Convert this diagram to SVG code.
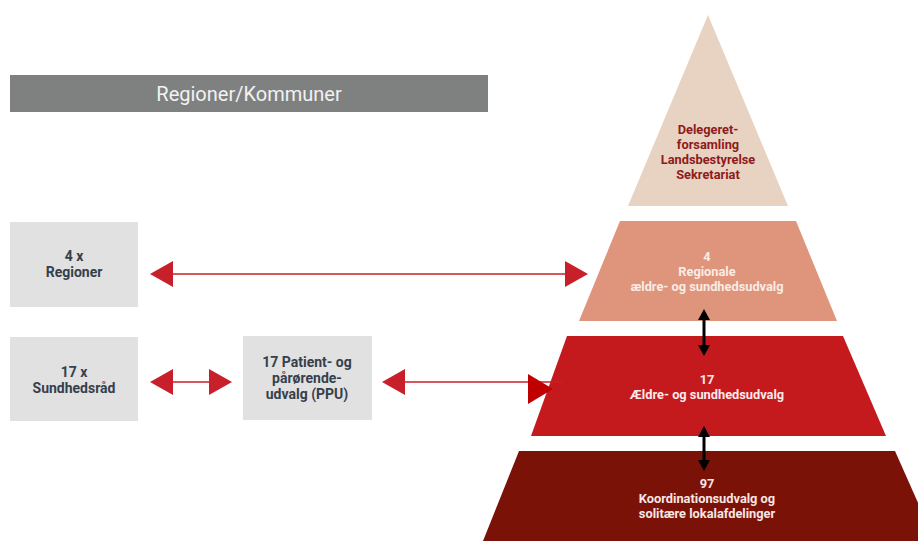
<svg xmlns="http://www.w3.org/2000/svg" width="918" height="541" viewBox="0 0 918 541">
<defs>
<style>
.t{font-family:Roboto,"Liberation Sans",sans-serif;font-weight:bold;text-anchor:middle}
.box{fill:#e1e1e1}
.bt{font-size:14px;fill:#36404c}
.pt{font-size:12.8px}
.rl{stroke:#c8202a;stroke-width:1.6;fill:none}
.rh{fill:#c8202a}
.bl{stroke:#000;stroke-width:3}
</style>
</defs>
<rect width="918" height="541" fill="#fff"/>
<g id="header">
<rect x="10" y="75" width="478" height="37" fill="#7f8181"/>
<text x="249" y="101" style="font-family:Roboto,'Liberation Sans',sans-serif;font-size:20px;fill:#f2f2f2;text-anchor:middle">Regioner/Kommuner</text>
</g>
<g id="pyr-top">
<polygon points="708,15 788,206 628,206" fill="#e8d2c1"/>
<text class="t pt" fill="#8e1b1b"><tspan x="708" y="134">Delegeret-</tspan><tspan x="708" y="149">forsamling</tspan><tspan x="708" y="164">Landsbestyrelse</tspan><tspan x="708" y="179">Sekretariat</tspan></text>
</g>
<g id="pyr-regional">
<polygon points="620,221 796,221 837,321 579,321" fill="#df957c"/>
<text class="t pt" fill="#f8ece6"><tspan x="707" y="261">4</tspan><tspan x="707" y="276">Regionale</tspan><tspan x="707" y="291">ældre- og sundhedsudvalg</tspan></text>
</g>
<g id="pyr-17">
<polygon points="567,336 843,336 886,436 531,436" fill="#c41a1e"/>
<text class="t pt" fill="#fbeaea"><tspan x="707" y="384">17</tspan><tspan x="707" y="399">Ældre- og sundhedsudvalg</tspan></text>
</g>
<g id="pyr-97">
<polygon points="519,451 895,451 935,541 483,541" fill="#7b1208"/>
<text class="t pt" fill="#f8e6e4"><tspan x="707" y="488">97</tspan><tspan x="707" y="503">Koordinationsudvalg og</tspan><tspan x="707" y="518">solitære lokalafdelinger</tspan></text>
</g>
<g id="box-regioner">
<rect class="box" x="10" y="222" width="128" height="85"/>
<text class="t bt"><tspan x="74" y="261">4 x</tspan><tspan x="74" y="277">Regioner</tspan></text>
</g>
<g id="box-sundhedsraad">
<rect class="box" x="10" y="337" width="128" height="84"/>
<text class="t bt"><tspan x="74" y="377">17 x</tspan><tspan x="74" y="393">Sundhedsråd</tspan></text>
</g>
<g id="box-ppu">
<rect class="box" x="243" y="336" width="129" height="84"/>
<text class="t bt"><tspan x="307" y="367">17 Patient- og</tspan><tspan x="307" y="383">pårørende-</tspan><tspan x="307" y="399">udvalg (PPU)</tspan></text>
</g>
<g id="connectors">
<line class="rl" x1="170" y1="274" x2="568" y2="274"/>
<polygon class="rh" points="150,274 173,261 173,287"/>
<polygon class="rh" points="588,274 565,261 565,287"/>
<line class="rl" x1="170" y1="382" x2="212" y2="382"/>
<polygon class="rh" points="150,382 173,369 173,395"/>
<polygon class="rh" points="232,382 209,369 209,395"/>
<line class="rl" x1="400" y1="382" x2="562" y2="382"/>
<polygon class="rh" points="382,382 405,369 405,395"/>
<polygon points="553,389 528,374 528,404" fill="#c00000"/>
<line class="bl" x1="704" y1="316" x2="704" y2="348"/>
<polygon points="704,309 698,320 710,320"/>
<polygon points="704,356 698,345 710,345"/>
<line class="bl" x1="704" y1="433" x2="704" y2="463"/>
<polygon points="704,426 698,437 710,437"/>
<polygon points="704,471 698,460 710,460"/>
</g>
</svg>
